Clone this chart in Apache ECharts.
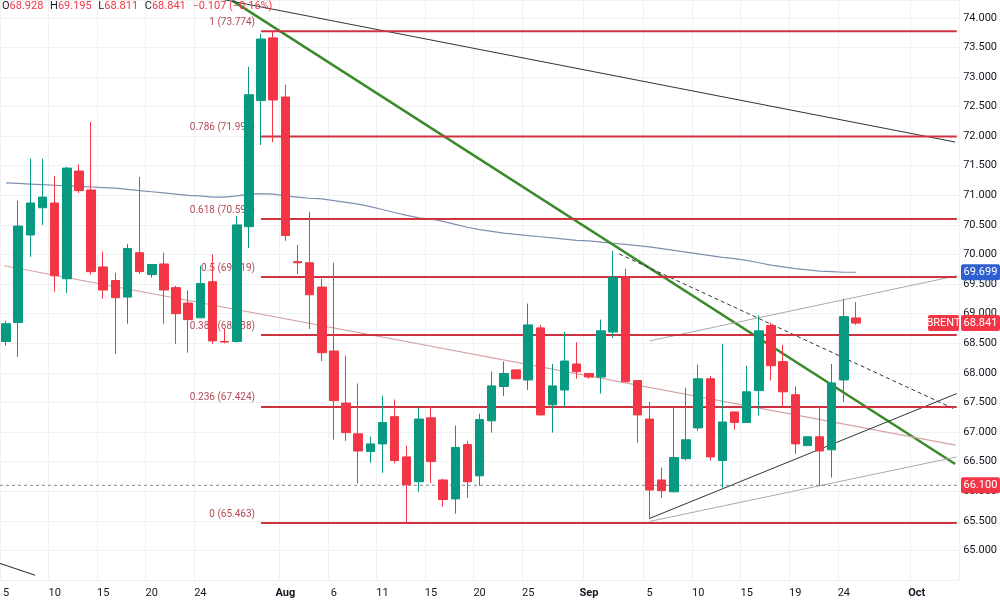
<!DOCTYPE html>
<html>
<head>
<meta charset="utf-8">
<script src="https://cdn.jsdelivr.net/npm/echarts@6/dist/echarts.min.js"></script>
<style>
  html, body { margin: 0; padding: 0; background: #fff; }
  #chart { width: 1000px; height: 607px; }
</style>
</head>
<body>
<div id="chart"></div>
<script>
// date labels, one per slot (79 slots, last ones empty future space)
const catLabels = ['5','','','','10','','','','15','','','','20','','','','24','','','','','','','Aug','','','','6','','','','11','','','','15','','','','20','','','','25','','','','','Sep','','','','','5','','','','10','','','','15','','','','19','','','','24','','','','','','Oct','','',''];
const monthNames = ['Aug', 'Sep', 'Oct'];

const opens  = [68.53,68.85,70.33,70.79,70.87,69.59,71.41,71.09,69.79,69.56,69.28,70.03,69.66,69.84,69.44,69.18,68.93,69.54,68.53,68.53,70.47,72.60,73.66,72.66,69.88,69.86,69.45,68.37,67.49,66.97,66.67,66.80,67.26,66.58,66.16,67.24,66.19,65.87,66.79,66.26,67.19,67.77,68.05,67.88,68.76,67.46,67.71,68.15,67.99,67.93,68.69,69.61,67.87,67.22,66.19,65.99,66.55,67.07,67.90,66.52,67.34,67.16,67.70,68.80,68.19,67.63,66.77,66.92,66.70,67.88,68.928];
const closes = [68.83,70.48,70.87,70.97,69.64,71.46,71.08,69.71,69.40,69.27,70.10,69.71,69.83,69.40,69.00,68.90,69.51,68.54,68.52,70.50,72.70,73.64,72.61,70.32,69.86,69.32,68.34,67.53,66.99,66.68,66.80,67.16,66.52,66.11,67.22,66.50,65.86,66.74,66.16,67.21,67.78,67.99,67.90,68.81,67.29,67.78,68.20,68.02,67.93,68.71,69.61,67.85,67.29,66.02,66.01,66.57,66.87,67.90,66.58,67.17,67.16,67.68,68.71,68.12,67.68,66.80,66.92,66.68,67.83,68.95,68.841];
const highs  = [68.88,70.91,71.62,71.62,71.33,71.48,71.52,72.24,70.05,69.69,70.18,71.31,69.83,70.03,69.47,69.39,69.81,70.00,68.75,70.65,73.17,73.73,73.774,72.87,70.16,70.72,69.59,69.86,68.29,67.82,66.92,67.61,67.55,66.77,67.41,67.44,66.21,67.11,66.85,67.31,68.02,68.19,68.05,69.17,68.81,68.15,68.69,68.52,67.99,68.90,70.06,69.76,67.87,67.51,66.40,67.43,67.75,68.14,67.95,68.49,67.34,68.12,68.97,68.85,68.47,67.77,66.92,67.44,68.15,69.25,69.195];
const lows   = [68.46,68.27,69.96,70.50,69.37,69.35,71.04,69.66,69.25,68.32,68.83,69.67,69.61,68.83,68.49,68.34,68.93,68.49,68.50,68.51,70.11,71.85,71.90,70.23,69.67,68.74,68.20,66.87,66.85,66.13,66.48,66.31,66.47,65.463,65.99,66.14,65.74,65.62,65.89,66.09,66.99,67.61,67.90,67.71,67.28,66.99,67.43,67.90,67.90,67.65,68.59,67.85,66.82,65.53,65.89,65.99,66.52,67.02,66.52,66.06,67.04,67.16,67.28,67.87,67.44,66.63,66.77,66.09,66.23,67.51,68.811];
// slow moving average (blue-grey)
const maValues = [71.21,71.20,71.19,71.18,71.17,71.16,71.15,71.14,71.13,71.12,71.10,71.08,71.06,71.04,71.02,71.00,70.99,70.97,70.97,70.99,71.02,71.03,71.02,70.99,70.97,70.95,70.94,70.91,70.88,70.85,70.81,70.76,70.71,70.66,70.62,70.60,70.56,70.51,70.46,70.42,70.39,70.36,70.34,70.32,70.30,70.28,70.26,70.24,70.23,70.21,70.19,70.17,70.15,70.13,70.10,70.07,70.04,70.01,69.98,69.95,69.93,69.90,69.86,69.82,69.79,69.76,69.74,69.72,69.71,69.70,69.70];

const fibRatios = ['1','0.786','0.618','0.5','0.382','0.236','0'];
const fibLevels = [73.774,71.995,70.599,69.619,68.638,67.424,65.463];

// trend lines: [startIndex, startPrice, endIndex, endPrice]
const trendGreen   = [18.64, 74.29, 78.17, 66.46];
const trendDark    = [17.58, 74.32, 78.17, 71.90];
const trendPink    = [-0.16, 69.81, 78.2, 66.78];
const trendDashed  = [50.5, 70.01, 78.1, 67.39];
const trendUpDark  = [53.0, 65.54, 78.3, 67.65];
const trendUpLow   = [53.0, 65.49, 78.3, 66.58];
const trendUpHigh  = [53.0, 68.54, 78.3, 69.64];
const trendCorner  = [-0.5, 64.78, 2.4, 64.58];
const supportLevel = 66.100;
const lastPrice = 68.841;
const maLast = 69.699;

const RED = '#f23645', GREEN = '#089981', FIB = '#d0323f';

const candleData = opens.map((o, i) => [o, closes[i], lows[i], highs[i]]);
const seg = (t) => [[t[0], t[1]], [t[2], t[3]]];
const lineSeries = (t, color, width, type) => ({
  type: 'line', xAxisIndex: 1, data: seg(t), symbol: 'none', silent: true,
  lineStyle: { color: color, width: width, type: type || 'solid' }, z: 3
});

const chart = echarts.init(document.getElementById('chart'));
const series = [
  {
    type: 'candlestick', data: candleData, barWidth: 9, z: 5,
    itemStyle: { color: GREEN, color0: RED, borderColor: GREEN, borderColor0: RED, borderWidth: 1 }
  },
  { type: 'line', data: maValues, symbol: 'none', lineStyle: { color: '#7f8fb0', width: 1.2 }, z: 3, silent: true },
  lineSeries(trendGreen, '#3a8a2a', 2.5),
  lineSeries(trendDark, '#333', 1),
  lineSeries(trendPink, '#d4a2a2', 1.2),
  lineSeries(trendDashed, '#333', 1, [4, 3]),
  lineSeries(trendUpDark, '#333', 1),
  lineSeries(trendUpLow, '#aaa', 1),
  lineSeries(trendUpHigh, '#aaa', 1),
  lineSeries(trendCorner, '#222', 1),
  lineSeries([-0.5, supportLevel, 78.5, supportLevel], '#888', 1, [3, 3])
];
fibLevels.forEach(v => series.push(lineSeries([21, v, 78.3, v], FIB, 2)));

chart.setOption({
  animation: false,
  grid: { left: -4, right: 38, top: 0, bottom: 27 },
  xAxis: [
    {
      type: 'category', data: catLabels, boundaryGap: true,
      axisLine: { show: false }, axisTick: { show: false },
      axisLabel: { interval: 0, color: '#131722', fontSize: 11, fontFamily: 'Roboto', margin: 8,
        formatter: v => monthNames.includes(v) ? '{b|' + v + '}' : v,
        rich: { b: { fontWeight: 'bold', fontSize: 11, color: '#131722', fontFamily: 'Roboto' } } },
      splitLine: { show: true, interval: (i, v) => v !== '', lineStyle: { color: '#f0f1f3' } }
    },
    { type: 'value', min: -0.5, max: 78.5, show: false }
  ],
  yAxis: {
    type: 'value', position: 'right', min: 64.5, max: 74.3, interval: 0.5, scale: true,
    axisLine: { show: false }, axisTick: { show: false },
    axisLabel: { color: '#131722', fontSize: 11, fontFamily: 'Roboto', margin: 4,
      showMinLabel: false, showMaxLabel: false, formatter: v => v.toFixed(3) },
    splitLine: { lineStyle: { color: '#f0f1f3' } }
  },
  series: series
});

// overlays: fib labels, price tags, header
const px = (k, v) => chart.convertToPixel({ xAxisIndex: 1, yAxisIndex: 0 }, [k, v]);
const g = [];
fibLevels.forEach((v, i) => {
  const p = px(21, v);
  g.push({ type: 'text', x: p[0] - 6, y: p[1] - 9, z: 4,
    style: { text: fibRatios[i] + ' (' + v.toFixed(3) + ')', fill: '#b24a55', font: '10px Roboto', align: 'right', verticalAlign: 'middle' } });
});
const tag = (v, text, fill, x, w) => {
  const y = px(0, v)[1];
  g.push({ type: 'rect', shape: { x: x, y: y - 8, width: w, height: 16, r: 2 }, style: { fill: fill }, z: 20 });
  g.push({ type: 'text', x: x + w / 2, y: y, z: 21,
    style: { text: text, fill: '#fff', font: '11px Roboto', align: 'center', verticalAlign: 'middle' } });
};
tag(maLast, maLast.toFixed(3), '#2f5fd0', 961, 39);
tag(supportLevel, supportLevel.toFixed(3), RED, 961, 39);
tag(lastPrice, lastPrice.toFixed(3), RED, 961, 39);
tag(lastPrice, 'BRENT', RED, 928, 31);
g.push({ type: 'text', x: 2, y: 6, z: 30, style: {
  text: '{k|O}{v|68.928}  {k|H}{v|69.195}  {k|L}{v|68.811}  {k|C}{v|68.841}  {v|\u22120.107 (\u22120.16%)}',
  verticalAlign: 'middle',
  rich: { k: { fill: '#131722', font: '11px Roboto' }, v: { fill: RED, font: '11px Roboto' } }
} });
chart.setOption({ graphic: g });
</script>
</body>
</html>
